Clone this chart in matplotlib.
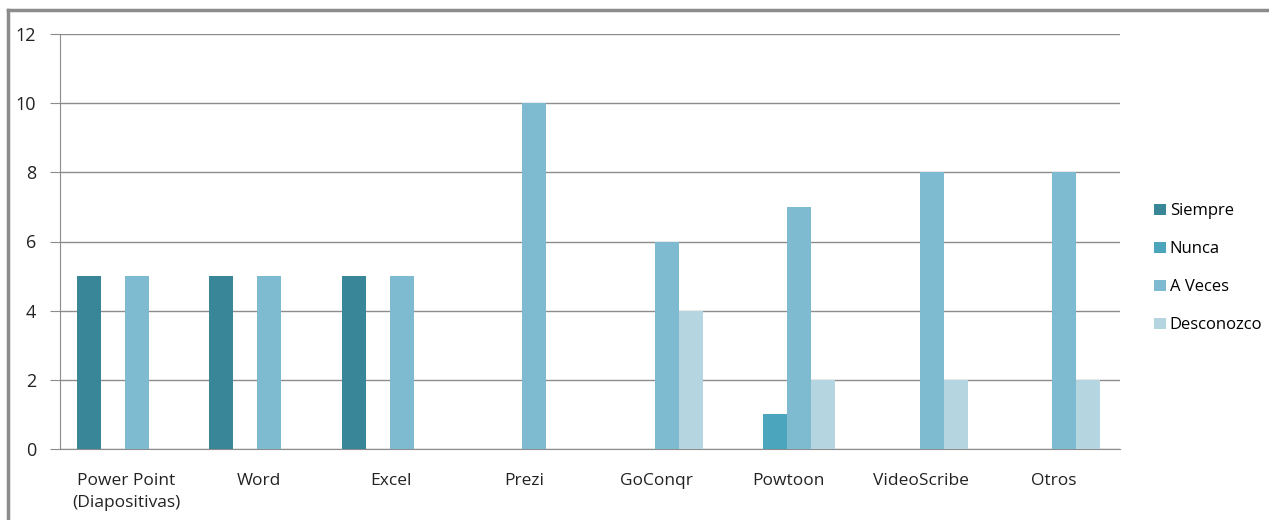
import matplotlib
matplotlib.use("Agg")
import matplotlib.pyplot as plt
from matplotlib.lines import Line2D
import numpy as np

plt.rcParams["font.family"] = ["Open Sans", "DejaVu Sans"]

categorias = ["Power Point\n(Diapositivas)", "Word", "Excel", "Prezi", "GoConqr",
              "Powtoon", "VideoScribe", "Otros"]
series = ["Siempre", "Nunca", "A Veces", "Desconozco"]
siempre = [5, 5, 5, 0, 0, 0, 0, 0]
nunca = [0, 0, 0, 0, 0, 1, 0, 0]
a_veces = [5, 5, 5, 10, 6, 7, 8, 8]
desconozco = [0, 0, 0, 0, 4, 2, 2, 2]
colores = ["#3a8699", "#4ba5bd", "#7ebbd1", "#b5d5e0"]

fig = plt.figure(figsize=(12.69, 5.2), dpi=100)
ax = fig.add_axes([60 / 1269, 71 / 520, 1060 / 1269, 415 / 520])

x = np.arange(len(categorias))
w = 0.181
for i, (vals, nom) in enumerate(zip([siempre, nunca, a_veces, desconozco], series)):
    ax.bar(x + (i - 1.5) * w - 0.01, vals, w, color=colores[i], label=nom, zorder=3)

ax.set_xlim(-0.5, len(categorias) - 0.5)
ax.set_ylim(0, 12)
ax.set_yticks(range(0, 13, 2))
ax.yaxis.grid(True, color="#8c8c8c", lw=1, zorder=0)
ax.set_xticks(x)
ax.set_xticklabels(categorias, fontsize=12.5, color="#222222", linespacing=1.55)
ax.tick_params(axis="x", length=0, pad=17)
ax.tick_params(axis="y", length=7, color="#8c8c8c", labelsize=13, labelcolor="#222222", pad=10)
for s in ["top", "right"]:
    ax.spines[s].set_visible(False)
for s in ["left", "bottom"]:
    ax.spines[s].set_color("#8c8c8c")

ax.legend(loc="center left", bbox_to_anchor=(1.021, 0.435), frameon=False, fontsize=12,
          handlelength=0.7, handleheight=0.7, handletextpad=0.25, labelspacing=1.32,
          borderaxespad=0.3)

# marco del gráfico
fig.add_artist(Line2D([8 / 1269, 8 / 1269], [0, 1 - 10 / 520], color="#8c8c8c", lw=2.5))
fig.add_artist(Line2D([8 / 1269, 1], [1 - 10 / 520, 1 - 10 / 520], color="#8c8c8c", lw=2.5))

fig.savefig("out.png", dpi=100)
